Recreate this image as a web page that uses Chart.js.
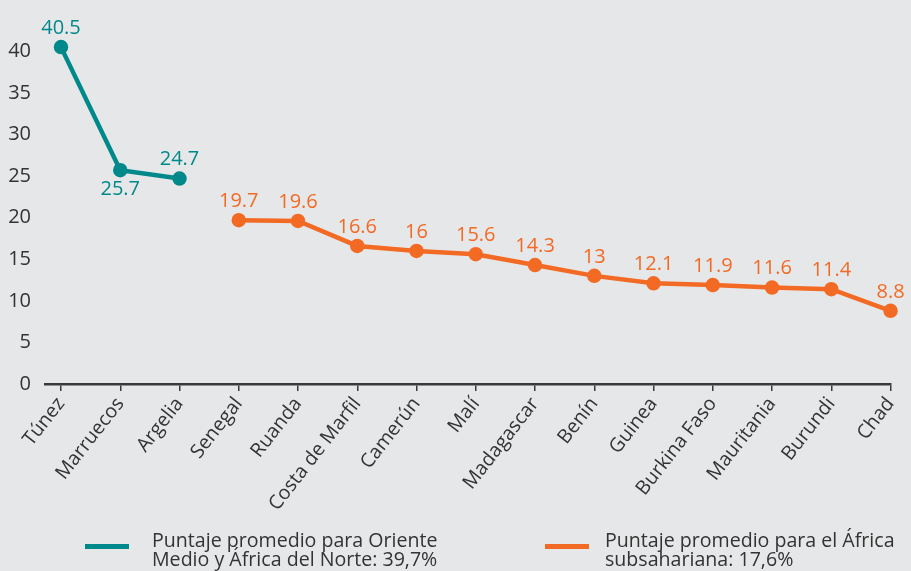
<!DOCTYPE html>
<html>
<head>
<meta charset="utf-8">
<script src="https://cdn.jsdelivr.net/npm/chart.js@4"></script>
<style>
  html, body { margin: 0; padding: 0; background: #e6e7e8; }
  #wrap { position: relative; width: 911px; height: 571px; overflow: hidden; }
  #chart { position: absolute; left: 0; top: 0; }
  .legend { position: absolute; font-family: "Open Sans", "Noto Sans", sans-serif; font-size: 19.6px; line-height: 19px; color: #333; white-space: nowrap; }
  .swatch { position: absolute; height: 5px; }
</style>
</head>
<body>
<div id="wrap">
  <canvas id="chart" width="911" height="571"></canvas>
  <div class="swatch" style="left:85px;top:544px;width:44px;background:#00898a"></div>
  <div class="legend" style="left:152px;top:530px">Puntaje promedio para Oriente<br>Medio y África del Norte: 39,7%</div>
  <div class="swatch" style="left:545px;top:544px;width:44px;background:#f36a24"></div>
  <div class="legend" style="left:605px;top:530px">Puntaje promedio para el África<br>subsahariana: 17,6%</div>
</div>
<script>
// ------------------ Data ------------------
const countries = ["Túnez", "Marruecos", "Argelia", "Senegal", "Ruanda", "Costa de Marfil", "Camerún",
  "Malí", "Madagascar", "Benín", "Guinea", "Burkina Faso", "Mauritania", "Burundi", "Chad"];
const menaScores = [40.5, 25.7, 24.7, null, null, null, null, null, null, null, null, null, null, null, null];
const ssaScores = [null, null, null, 19.7, 19.6, 16.6, 16, 15.6, 14.3, 13, 12.1, 11.9, 11.6, 11.4, 8.8];
const yTicks = [0, 5, 10, 15, 20, 25, 30, 35, 40];

const TEAL = "#00898a";
const ORANGE = "#f36a24";
const FONT = "'Open Sans', 'Noto Sans', sans-serif";

// ------------------ Value labels ------------------
const valueLabels = {
  id: "valueLabels",
  afterDatasetsDraw(chart) {
    const ctx = chart.ctx;
    ctx.save();
    ctx.font = "20px " + FONT;
    ctx.textAlign = "center";
    chart.data.datasets.forEach((ds, di) => {
      const meta = chart.getDatasetMeta(di);
      ds.data.forEach((p, i) => {
        if (p.y == null) return;
        const el = meta.data[i];
        ctx.fillStyle = ds.borderColor;
        const below = di === 0 && i === 1;
        ctx.textBaseline = below ? "top" : "bottom";
        ctx.fillText(String(p.y), el.x, below ? el.y + 9 : el.y - 9);
      });
    });
    ctx.restore();
  }
};

const toPoints = arr => arr.map((v, i) => ({ x: i, y: v }));

new Chart(document.getElementById("chart"), {
  type: "line",
  data: {
    datasets: [
      { data: toPoints(menaScores), borderColor: TEAL, backgroundColor: TEAL, borderWidth: 4.5,
        pointRadius: 5, pointHoverRadius: 5, spanGaps: false, clip: false },
      { data: toPoints(ssaScores), borderColor: ORANGE, backgroundColor: ORANGE, borderWidth: 4.5,
        pointRadius: 5, pointHoverRadius: 5, spanGaps: false, clip: false }
    ]
  },
  options: {
    responsive: false,
    animation: false,
    layout: { padding: { top: 7, right: 20, left: 0, bottom: 0 } },
    plugins: { legend: { display: false }, tooltip: { enabled: false } },
    scales: {
      x: {
        type: "linear",
        min: -0.27,
        max: 14,
        afterBuildTicks: s => { s.ticks = countries.map((_, i) => ({ value: i })); },
        afterFit: s => { s.height = 187; },
        grid: { display: true, drawOnChartArea: false, color: "#3a3a3a", lineWidth: 1.5, tickLength: 7 },
        border: { display: true, color: "#3a3a3a", width: 2.5 },
        ticks: {
          autoSkip: false, minRotation: 52, maxRotation: 52, padding: 2,
          color: "#333", font: { family: FONT, size: 19.5 },
          callback: v => countries[v]
        }
      },
      y: {
        min: 0,
        max: 44,
        afterBuildTicks: s => { s.ticks = yTicks.map(v => ({ value: v })); },
        afterFit: s => { s.width = 45; },
        grid: { display: false },
        border: { display: false },
        ticks: { padding: 6, color: "#333", font: { family: FONT, size: 20 } }
      }
    }
  },
  plugins: [valueLabels]
});
</script>
</body>
</html>
